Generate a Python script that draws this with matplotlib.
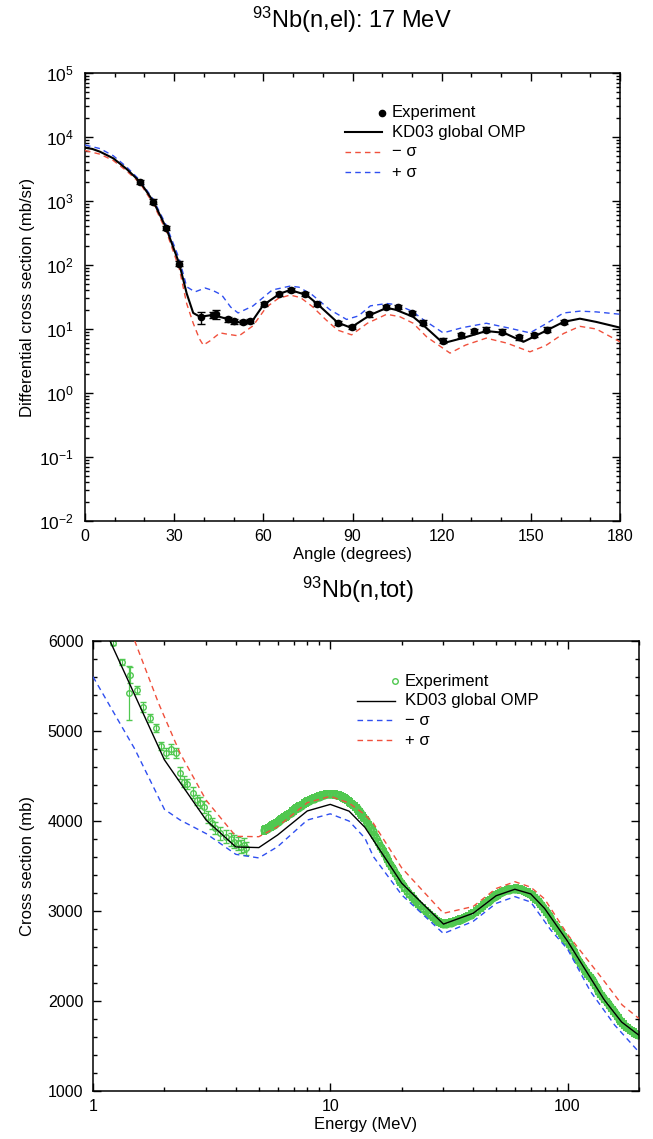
import numpy as np
import matplotlib
matplotlib.use("Agg")
import matplotlib.pyplot as plt
from matplotlib.ticker import MultipleLocator, LogLocator, NullFormatter, FixedLocator, FixedFormatter

plt.rcParams["font.family"] = ["Liberation Sans", "DejaVu Sans"]
plt.rcParams["mathtext.fontset"] = "custom"
plt.rcParams["mathtext.rm"] = "Liberation Sans"
plt.rcParams["mathtext.it"] = "Liberation Sans:italic"
plt.rcParams["mathtext.bf"] = "Liberation Sans:bold"

RED = "#f0503c"
BLUE = "#2f4ff0"
GREEN = "#50c850"

# ---------------- 93Nb(n,el) 17 MeV : angular distribution ----------------
EL_CALC_ANG = [0, 2.5, 5, 9.5, 14, 18.5, 23, 27.3, 31.7, 34.2, 36.4, 38.7, 43, 47.5, 53,
               56.5, 60, 65.5, 69, 74.5, 78, 85, 89.4, 96, 101.5, 104.5, 110.4, 113.8,
               120.5, 127, 135, 141, 147.5, 154.5, 161, 166.5, 172, 180]
EL_CALC = [6800, 6500, 5900, 4650, 3160, 2000, 980, 380, 105, 36, 17.8, 15.5, 16.6, 14.5, 12.3,
           13.8, 23.7, 35.5, 40.7, 34, 25, 12.6, 10.5, 16.6, 21.4, 20, 15.5, 11.5,
           6.0, 7.2, 9.3, 8.7, 6.3, 9.1, 12.9, 14.5, 12.9, 10.5]

EL_LO_ANG = [0, 5, 9.5, 14, 18.5, 23, 27.3, 31.7, 34.2, 36.4, 38.5, 39.8, 42, 45.4, 48.5,
             51.8, 56.5, 61, 65, 69, 72.5, 76.5, 81, 85, 89.7, 95, 101.5, 106, 110.4,
             115, 122.8, 128, 135, 142, 149.7, 155, 161, 166.5, 172, 180]
EL_LO = [6150, 5400, 4300, 2950, 1900, 900, 340, 88, 25, 12.3, 7.0, 5.6, 6.5, 8.7, 8.2,
         7.8, 11.2, 21.9, 30, 33.9, 31, 22.4, 14, 9.6, 8.1, 12.3, 17, 15.5, 12.3,
         7.5, 4.2, 5.6, 7.2, 6.0, 4.4, 5.5, 8.5, 11, 10, 6.3]

EL_HI_ANG = [0, 5, 9.5, 14, 18.5, 23, 27.3, 31.7, 34.2, 37, 40.4, 43, 46, 49, 51.5,
             56.5, 63, 69, 72, 76.5, 82.4, 88, 92, 96, 101.5, 105, 110, 113.8, 120.5,
             127, 135, 142, 149.7, 155, 161, 166.5, 172, 180]
EL_HI = [7500, 6600, 5100, 3400, 2100, 1050, 420, 125, 45.7, 38, 43.7, 40, 34, 22, 17.8,
         22.9, 40.7, 46.8, 45, 34, 20, 14.1, 16, 23, 25, 24, 19, 14, 8.7,
         10.5, 12.3, 10.5, 8.7, 12, 17.8, 19, 18.5, 17]

EL_EXP_ANG = [18.5, 22.8, 27.3, 31.7, 38.9, 43.2, 44.1, 48.0, 50.2, 53.2, 55.5, 60.3, 65.4,
              69.2, 74.1, 78.1, 85.1, 89.7, 95.7, 101.3, 105.4, 109.9, 113.6, 120.6, 126.4,
              131.0, 134.9, 140.4, 146.0, 151.1, 155.3, 161.3]
EL_EXP = [2000, 980, 380, 105, 15.2, 16.5, 17.0, 14.2, 13.2, 12.9, 13.5, 24.5, 35.6,
          40.5, 35, 25, 12.4, 10.7, 17, 22.4, 21.9, 17.6, 12.6, 6.6, 8.0,
          9.4, 9.8, 9.1, 7.4, 8.1, 9.8, 12.9]
EL_EXP_REL = [0.08, 0.08, 0.08, 0.09, 0.2, 0.1, 0.15, 0.08, 0.08, 0.08, 0.08, 0.07, 0.07,
              0.07, 0.07, 0.07, 0.08, 0.08, 0.08, 0.07, 0.07, 0.07, 0.08, 0.08, 0.08,
              0.08, 0.08, 0.08, 0.08, 0.08, 0.08, 0.07]

# ---------------- 93Nb(n,tot) ----------------
TOT_CALC_E = [1.0, 1.18, 1.5, 2.0, 3.0, 4.0, 5.0, 6.0, 8.0, 10, 12, 14, 20, 30, 40, 50,
              60, 70, 80, 100, 125, 143, 169, 200]
TOT_CALC = [6400, 6000, 5400, 4680, 4010, 3712, 3705, 3845, 4112, 4185, 4110, 3930, 3310,
            2855, 2975, 3170, 3242, 3190, 3030, 2665, 2256, 2011, 1767, 1620]

TOT_LO_E = [1.0, 1.5, 2.0, 2.33, 3.0, 4.0, 5.0, 6.0, 8.0, 10, 12, 14, 15.2, 20, 30, 40,
            50, 60, 70, 85, 100, 125, 158, 200]
TOT_LO = [5604, 4800, 4130, 4011, 3860, 3630, 3590, 3715, 4011, 4080, 4000, 3810, 3604,
          3180, 2750, 2885, 3085, 3160, 3100, 2789, 2578, 2106, 1733, 1433]

TOT_HI_E = [1.0, 1.5, 1.89, 2.33, 3.0, 4.0, 5.0, 6.0, 8.0, 10, 12, 14, 15.2, 20, 30, 40,
            50, 60, 70, 80, 100, 140, 170, 200]
TOT_HI = [7100, 6000, 5308, 4752, 4230, 3830, 3826, 3937, 4204, 4275, 4200, 4070, 3974,
          3480, 2975, 3050, 3250, 3326, 3265, 3135, 2740, 2250, 1956, 1806]

# sparse low-energy points (with larger errors)
TOT_EXP_LO_E = [1.22, 1.33, 1.43, 1.42, 1.54, 1.63, 1.74, 1.85, 1.93, 2.03, 2.13, 2.24, 2.33,
                2.42, 2.50, 2.63, 2.74, 2.83, 2.94, 3.04, 3.16, 3.27, 3.43, 3.64, 3.81, 3.93,
                4.10, 4.21, 4.31, 4.41]
TOT_EXP_LO = [5981, 5770, 5622, 5419, 5456, 5270, 5141, 5030, 4837, 4752, 4796, 4759, 4530,
              4437, 4411, 4315, 4233, 4204, 4159, 4041, 3974, 3919, 3863, 3826, 3796, 3770,
              3752, 3715, 3733, 3696]
TOT_EXP_LO_ERR = [30, 33, 90, 300, 45, 55, 45, 45, 45, 55, 55, 55, 65,
                  60, 60, 60, 60, 60, 65, 65, 65, 65, 70, 70, 70, 75,
                  75, 75, 75, 75]

# dense data above 5 MeV
TOT_EXP_HI_E = [5.25, 5.4, 5.55, 5.7, 5.85, 6.0, 6.15, 6.3, 6.5, 6.7, 6.9, 7.1, 7.3, 7.5,
                7.75, 8.0, 8.25, 8.5, 8.8, 9.1, 9.4, 9.7, 10.0, 10.3, 10.6, 10.9, 11.2, 11.5,
                11.8, 12.1, 12.5, 12.9, 13.3, 13.7, 14.1, 14.6, 15.1, 15.6, 16.2, 16.8, 17.4,
                18.0, 18.7, 19.4, 20.1, 21.0, 22.0, 23.0, 24.0, 25.2, 26.4, 27.6, 28.8, 30.0,
                31.5, 33.0, 34.5, 36.0, 37.5, 39.0, 41.0, 43.0, 45.0, 47.0, 49.0, 51.0, 53.0,
                55.5, 58.0, 60.5, 63.0, 65.5, 68.0, 70.5, 73.0, 75.5, 78.0, 81.0, 84.0, 87.0,
                90.0, 93.5, 97.0, 101, 105, 109, 113, 117, 121, 125, 130, 135, 140, 146, 152,
                158, 164, 170, 177, 184, 191, 198,
                5.32, 5.47, 5.62, 5.77, 5.92, 6.07, 6.22, 6.4, 6.6, 6.8, 7.0, 7.2, 7.4, 7.62,
                7.87, 8.12, 8.37, 8.65, 8.95, 9.25, 9.55, 9.85, 10.15, 10.45, 10.75, 11.05,
                11.35, 11.65, 11.95, 12.3, 12.7, 13.1, 13.5, 13.9, 14.35, 14.85, 15.35, 15.9,
                16.5, 17.1, 17.7, 18.35, 19.05, 19.75, 20.5, 21.5, 22.5, 23.5, 24.6, 25.8,
                27.0, 28.2, 29.4, 30.7, 32.2, 33.7, 35.2, 36.7, 38.2, 40.0, 42.0, 44.0, 46.0,
                48.0, 50.0, 52.0, 54.2, 56.7, 59.2, 61.7, 64.2, 66.7, 69.2, 71.7, 74.2, 76.7,
                79.5, 82.5, 85.5, 88.5, 91.7, 95.2, 99.0, 103, 107, 111, 115, 119, 123, 127.5,
                132.5, 137.5, 143, 149, 155, 161, 167, 173.5, 180.5, 187.5, 194.5]
TOT_EXP_HI = [3895, 3915, 3930, 3950, 3968, 3990, 4010, 4030, 4052, 4075, 4105, 4130, 4150, 4170,
              4195, 4218, 4235, 4250, 4265, 4280, 4292, 4302, 4300, 4298, 4292, 4285, 4270, 4252,
              4230, 4205, 4180, 4140, 4095, 4050, 4010, 3950, 3885, 3810, 3725, 3650, 3575,
              3500, 3425, 3350, 3300, 3225, 3160, 3100, 3055, 3000, 2955, 2910, 2875, 2855,
              2865, 2880, 2895, 2915, 2935, 2960, 2995, 3040, 3085, 3125, 3160, 3185, 3210,
              3230, 3245, 3250, 3240, 3225, 3205, 3180, 3140, 3100, 3055, 2995, 2935, 2870,
              2810, 2760, 2705, 2640, 2565, 2490, 2420, 2355, 2305, 2255, 2180, 2110, 2055,
              1990, 1925, 1865, 1805, 1760, 1715, 1680, 1650, 1625,
              3905, 3922, 3940, 3960, 3978, 4000, 4020, 4040, 4063, 4090, 4118, 4140, 4160, 4182,
              4207, 4226, 4243, 4258, 4272, 4286, 4297, 4301, 4299, 4295, 4288, 4278,
              4261, 4241, 4218, 4193, 4160, 4118, 4073, 4030, 3980, 3918, 3848, 3768,
              3688, 3612, 3538, 3462, 3388, 3325, 3262, 3192, 3130, 3078, 3028, 2978,
              2932, 2892, 2865, 2860, 2872, 2888, 2905, 2925, 2948, 2978, 3018, 3062, 3105,
              3142, 3172, 3198, 3220, 3238, 3248, 3245, 3233, 3215, 3193, 3160, 3120, 3078,
              3025, 2965, 2902, 2840, 2785, 2733, 2672, 2603, 2528, 2455, 2388, 2330, 2280, 2218,
              2145, 2082, 2022, 1958, 1895, 1835, 1782, 1738, 1697, 1665, 1637]
TOT_EXP_HI_ERR = 35


def style_axes(ax):
    for s in ax.spines.values():
        s.set_linewidth(1.1)
    ax.tick_params(which="both", direction="in", top=True, right=True,
                   labelsize=11.5, width=1.0)
    ax.tick_params(which="major", length=6)
    ax.tick_params(which="minor", length=3)


fig = plt.figure(figsize=(6.53, 11.39), dpi=100)

# ---- top panel ----
ax1 = fig.add_axes([0.1302, 0.5426, 0.8193, 0.3933])
ax1.plot(EL_CALC_ANG, EL_CALC, color="black", lw=1.5, zorder=4)
ax1.plot(EL_LO_ANG, EL_LO, color=RED, lw=1.0, dashes=(4, 3), zorder=3)
ax1.plot(EL_HI_ANG, EL_HI, color=BLUE, lw=1.0, dashes=(4, 3), zorder=3)
yerr = np.array(EL_EXP) * np.array(EL_EXP_REL)
ax1.errorbar(EL_EXP_ANG, EL_EXP, yerr=yerr, fmt="o", color="black", ms=4.5,
             elinewidth=1.0, capsize=3, capthick=1.0, zorder=5)
ax1.set_yscale("log")
ax1.set_xlim(0, 180)
ax1.set_ylim(1e-2, 1e5)
ax1.xaxis.set_major_locator(MultipleLocator(30))
ax1.xaxis.set_minor_locator(MultipleLocator(10))
ax1.yaxis.set_major_locator(LogLocator(base=10, numticks=10))
ax1.yaxis.set_minor_locator(LogLocator(base=10, subs=np.arange(2, 10), numticks=10))
ax1.yaxis.set_minor_formatter(NullFormatter())
style_axes(ax1)
ax1.tick_params(axis="y", pad=8, labelsize=12.5)
ax1.tick_params(axis="x", pad=6)
ax1.set_xlabel("Angle (degrees)", fontsize=12, labelpad=2)
ax1.set_ylabel("Differential cross section (mb/sr)", fontsize=12)
ax1.yaxis.set_label_coords(-0.093, 0.5)

# legend drawn in axes coordinates
tr = ax1.transAxes
ax1.plot([0.555], [0.911], "o", color="black", ms=4.5, transform=tr)
ax1.plot([0.486, 0.555], [0.868, 0.868], color="black", lw=1.5, transform=tr)
ax1.plot([0.486, 0.555], [0.824, 0.824], color=RED, lw=1.0, dashes=(4, 3), transform=tr)
ax1.plot([0.486, 0.555], [0.779, 0.779], color=BLUE, lw=1.0, dashes=(4, 3), transform=tr)
for yy, txt in zip([0.911, 0.868, 0.824, 0.779],
                   ["Experiment", "KD03 global OMP", "\u2212 \u03c3", "+ \u03c3"]):
    ax1.text(0.574, yy, txt, transform=tr, fontsize=12, va="center", ha="left")

fig.text(352 / 653, 1 - 20 / 1139, r"$^{93}$Nb(n,el): 17 MeV", ha="center", va="center",
         fontsize=17)

# ---- bottom panel ----
ax2 = fig.add_axes([0.1424, 0.0421, 0.8361, 0.3951])
ax2.errorbar(TOT_EXP_LO_E, TOT_EXP_LO, yerr=TOT_EXP_LO_ERR, fmt="o", mfc="none", mec=GREEN,
             ecolor=GREEN, ms=4, mew=1.0, elinewidth=0.9, capsize=2.5, capthick=0.9, zorder=2)
ax2.errorbar(TOT_EXP_HI_E, TOT_EXP_HI, yerr=TOT_EXP_HI_ERR, fmt="o", mfc="none", mec=GREEN,
             ecolor=GREEN, ms=4.5, mew=1.4, elinewidth=1.0, capsize=2.5, capthick=1.0, zorder=2)
ax2.plot(TOT_CALC_E, TOT_CALC, color="black", lw=1.0, zorder=4)
ax2.plot(TOT_LO_E, TOT_LO, color=BLUE, lw=1.0, dashes=(4, 3), zorder=3)
ax2.plot(TOT_HI_E, TOT_HI, color=RED, lw=1.0, dashes=(4, 3), zorder=3)
ax2.set_xscale("log")
ax2.set_xlim(1, 200)
ax2.set_ylim(1000, 6000)
ax2.xaxis.set_major_locator(FixedLocator([1, 10, 100]))
ax2.xaxis.set_major_formatter(FixedFormatter(["1", "10", "100"]))
ax2.xaxis.set_minor_locator(LogLocator(base=10, subs=np.arange(2, 10), numticks=10))
ax2.xaxis.set_minor_formatter(NullFormatter())
ax2.yaxis.set_major_locator(MultipleLocator(1000))
ax2.yaxis.set_minor_locator(MultipleLocator(200))
style_axes(ax2)
ax2.tick_params(axis="y", pad=7)
ax2.tick_params(axis="x", pad=6)
ax2.set_xlabel("Energy (MeV)", fontsize=12, labelpad=2)
ax2.set_ylabel("Cross section (mb)", fontsize=12)
ax2.yaxis.set_label_coords(-0.106, 0.5)

tr2 = ax2.transAxes
ax2.plot([0.553], [0.911], "o", mfc="none", mec=GREEN, ms=4, mew=1.0, transform=tr2)
ax2.plot([0.484, 0.553], [0.867, 0.867], color="black", lw=1.0, transform=tr2)
ax2.plot([0.484, 0.553], [0.824, 0.824], color=BLUE, lw=1.0, dashes=(4, 3), transform=tr2)
ax2.plot([0.484, 0.553], [0.780, 0.780], color=RED, lw=1.0, dashes=(4, 3), transform=tr2)
for yy, txt in zip([0.911, 0.867, 0.824, 0.780],
                   ["Experiment", "KD03 global OMP", "\u2212 \u03c3", "+ \u03c3"]):
    ax2.text(0.571, yy, txt, transform=tr2, fontsize=12, va="center", ha="left")

fig.text(358 / 653, 1 - 590 / 1139, r"$^{93}$Nb(n,tot)", ha="center", va="center",
         fontsize=17)

fig.savefig("out.png", dpi=100)
